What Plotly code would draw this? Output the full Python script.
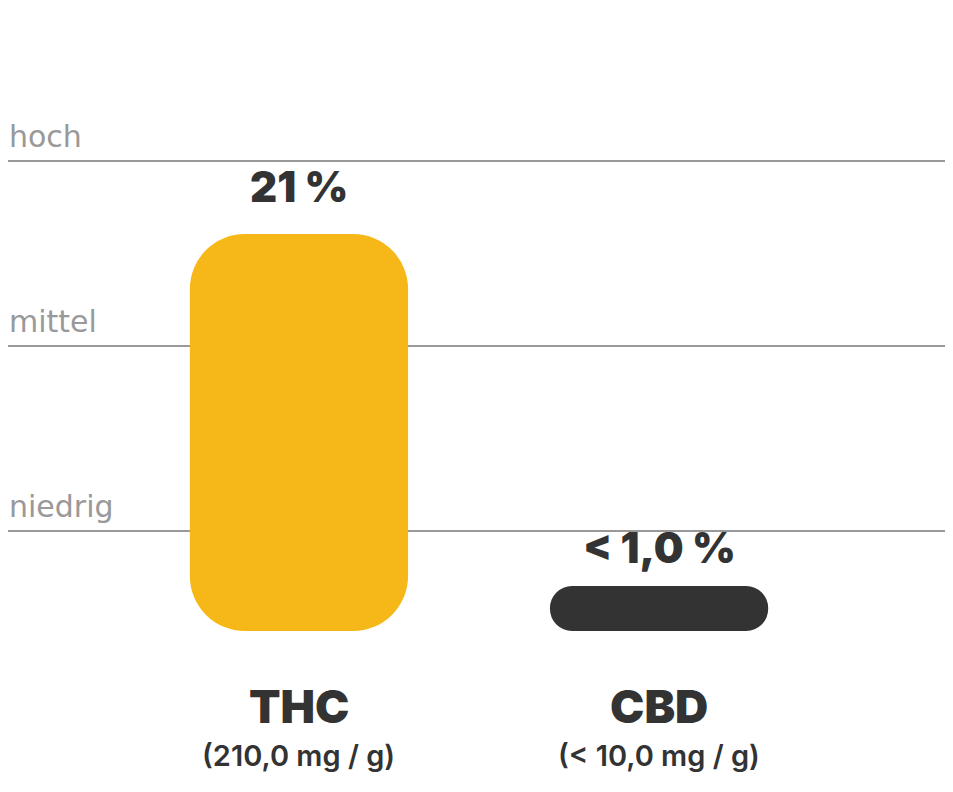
import plotly.graph_objects as go

# cannabinoid content, shown values and the bar heights used for drawing
categories = ["THC", "CBD"]
sublabels = ["(210,0 mg / g)", "(< 10,0 mg / g)"]
value_labels = ["21 %", "< 1,0 %"]
bar_heights = [21.0, 2.38]
bar_colors = ["#F6B818", "#333333"]
corner_radii = [55, 22]
label_shifts = [20, 11]

# reference levels drawn as horizontal lines
level_names = ["niedrig", "mittel", "hoch"]
level_values = [5.29, 15.08, 24.86]

TEXT_DARK = "#333333"
LEVEL_GREY = "#999999"

fig = go.Figure()

x_pos = list(range(len(categories)))
for i, (h, col, rad) in enumerate(zip(bar_heights, bar_colors, corner_radii)):
    # explicit base -> plotly rounds both ends of the bar
    fig.add_trace(
        go.Bar(
            x=[x_pos[i]],
            y=[h],
            base=[0],
            width=0.606,
            marker=dict(color=col, cornerradius=rad, line=dict(width=0)),
            hoverinfo="skip",
            showlegend=False,
        )
    )

annotations = []
for i, txt in enumerate(value_labels):
    annotations.append(
        dict(
            x=x_pos[i], y=bar_heights[i], xref="x", yref="y",
            text=txt, showarrow=False, yanchor="bottom", yshift=label_shifts[i],
            font=dict(family="Inter", size=42, color=TEXT_DARK, weight=900),
        )
    )
for i, cat in enumerate(categories):
    annotations.append(
        dict(
            x=x_pos[i], y=0, xref="x", yref="y",
            text=cat, showarrow=False, yanchor="middle", yshift=-75,
            font=dict(family="Inter", size=46, color=TEXT_DARK, weight=900),
        )
    )
    annotations.append(
        dict(
            x=x_pos[i], y=0, xref="x", yref="y",
            text=sublabels[i], showarrow=False, yanchor="middle", yshift=-124,
            font=dict(family="Inter", size=29, color=TEXT_DARK, weight=600),
        )
    )
for name, val in zip(level_names, level_values):
    annotations.append(
        dict(
            x=0, y=val, xref="paper", yref="y",
            text=name, showarrow=False, xanchor="left", yanchor="bottom",
            xshift=-1, yshift=5,
            font=dict(family="DejaVu Sans", size=30, color=LEVEL_GREY),
        )
    )

# the page body adds an 8px offset, so the figure is sized and shifted to suit
fig.update_layout(
    width=945,
    height=784,
    barmode="overlay",
    paper_bgcolor="white",
    plot_bgcolor="white",
    margin=dict(l=0, r=8, t=94, b=161),
    xaxis=dict(range=[-0.808, 1.794], visible=False, fixedrange=True),
    yaxis=dict(
        range=[0, 27.98],
        tickvals=level_values,
        showticklabels=False,
        showgrid=True,
        gridcolor=LEVEL_GREY,
        gridwidth=2,
        zeroline=False,
        fixedrange=True,
    ),
    annotations=annotations,
    showlegend=False,
)

fig.write_html("out.html")
